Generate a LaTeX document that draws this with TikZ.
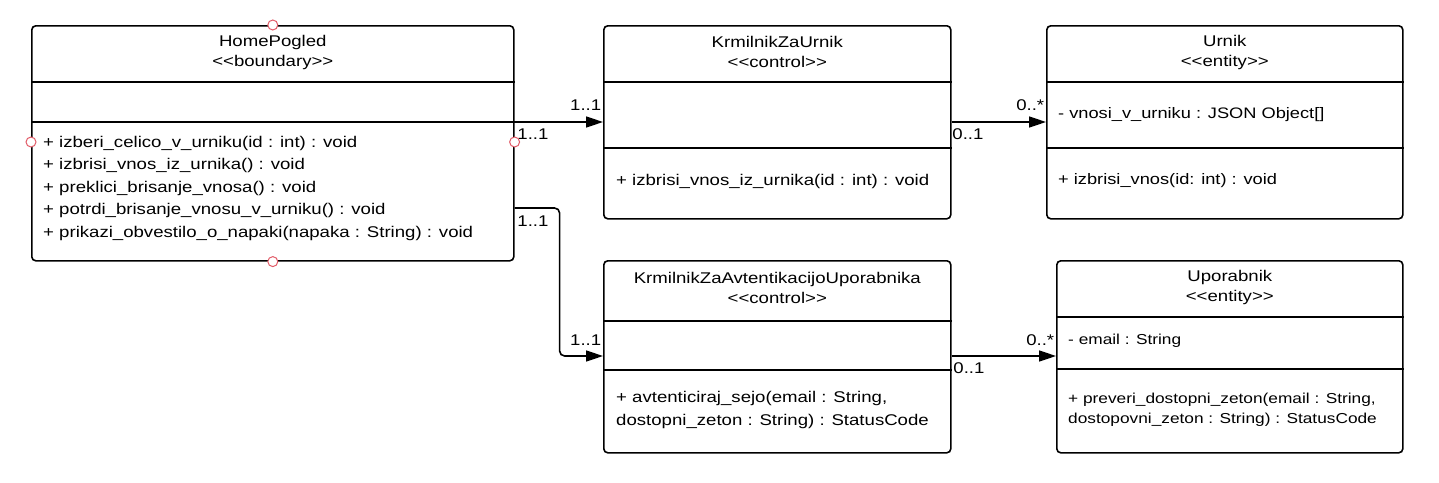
\documentclass[tikz,border=0pt]{standalone}
\usepackage{fontspec}
\setmainfont{Liberation Sans}[FakeStretch=1.2]
\usetikzlibrary{arrows.meta}

\definecolor{portred}{RGB}{226,92,104}

\tikzset{
  classbox/.style={draw, line width=1.6pt, rounded corners=4pt, inner sep=0pt, anchor=north west},
  divider/.style={line width=1.6pt},
  headtext/.style={align=center, inner sep=0pt, font=\fontsize{15.5}{20}\selectfont},
  membertext/.style={align=left, anchor=west, inner sep=0pt, font=\fontsize{15.5}{22.5}\selectfont},
  smallmember/.style={membertext, font=\fontsize{14.4}{20}\selectfont},
  assoc/.style={line width=1.6pt, -{Triangle[length=17pt,width=11pt]}},
  mult/.style={inner sep=0pt, font=\fontsize{15.5}{18}\selectfont},
  port/.style={draw=portred, line width=1pt, fill=white},
}

\begin{document}
\begin{tikzpicture}[x=1pt, y=-1pt]
    \useasboundingbox[fill=white] (0,0) rectangle (1439,482);

    % Class boxes
    \node[classbox, minimum width=482pt, minimum height=235pt] (home) at (31,25) {};
    \node[classbox, minimum width=347pt, minimum height=193pt] (kzu) at (603,25) {};
    \node[classbox, minimum width=356pt, minimum height=193pt] (urnik) at (1046,25) {};
    \node[classbox, minimum width=347pt, minimum height=192pt] (kza) at (603,260) {};
    \node[classbox, minimum width=346pt, minimum height=192pt] (upo) at (1056,260) {};

    % Compartment lines
    \foreach \cls/\a/\b in {home/57/97, kzu/57/123, urnik/57/123, kza/61/110, upo/57/109} {
        \draw[divider] ([yshift=-\a pt]\cls.north west) -- ([yshift=-\a pt]\cls.north east);
        \draw[divider] ([yshift=-\b pt]\cls.north west) -- ([yshift=-\b pt]\cls.north east);
    }

    % Headers
    \node[headtext] (homehead) at ([yshift=-27pt]home.north) {HomePogled\\<{}<boundary>{}>};
    \node[headtext] (kzuhead) at ([yshift=-27pt]kzu.north) {KrmilnikZaUrnik\\<{}<control>{}>};
    \node[headtext] (urnikhead) at ([yshift=-27pt]urnik.north) {Urnik\\<{}<entity>{}>};
    \node[headtext] (kzahead) at ([yshift=-28pt]kza.north) {KrmilnikZaAvtentikacijoUporabnika\\<{}<control>{}>};
    \node[headtext] (upohead) at ([yshift=-27pt]upo.north) {Uporabnik\\<{}<entity>{}>};

    % Attributes and operations
    \node[membertext] (homeops) at (43,188) {+ izberi\_celico\_v\_urniku(id : int) : void\\
        + izbrisi\_vnos\_iz\_urnika() : void\\
        + preklici\_brisanje\_vnosa() : void\\
        + potrdi\_brisanje\_vnosu\_v\_urniku() : void\\
        + prikazi\_obvestilo\_o\_napaki(napaka : String) : void};
    \node[membertext] (kzuops) at (616,181) {+ izbrisi\_vnos\_iz\_urnika(id : int) : void};
    \node[membertext, font=\fontsize{15.2}{20}\selectfont] (urnikattr) at (1058,115) {- vnosi\_v\_urniku : JSON Object[]};
    \node[membertext, font=\fontsize{15.2}{20}\selectfont] (urnikops) at (1058,181) {+ izbrisi\_vnos(id: int) : void};
    \node[membertext] (kzaops) at (616,410) {+ avtenticiraj\_sejo(email : String,\\dostopni\_zeton : String) : StatusCode};
    \node[smallmember] (upoattr) at (1068,341) {- email : String};
    \node[smallmember] (upoops) at (1068,410) {+ preveri\_dostopni\_zeton(email : String,\\dostopovni\_zeton : String) : StatusCode};

    % Associations
    \draw[assoc] ([yshift=-97pt]home.north east)
        node[mult, anchor=north west, xshift=2pt, yshift=-6pt] (m1a) {1..1}
        -- ([yshift=-97pt]kzu.north west)
        node[mult, anchor=south east, xshift=-1pt, yshift=11pt] (m1b) {1..1};
    \draw[assoc] ([yshift=-97pt]kzu.north east)
        node[mult, anchor=north west, yshift=-6pt] (m2a) {0..1}
        -- ([yshift=-97pt]urnik.north west)
        node[mult, anchor=south east, xshift=-1pt, yshift=11pt] (m2b) {0..*};
    \draw[assoc, rounded corners=5pt] ([yshift=-183pt]home.north east)
        node[mult, anchor=north west, xshift=2pt, yshift=-7pt] (m3a) {1..1}
        -- ++(45,0) |- ([yshift=-96pt]kza.north west)
        node[mult, anchor=south east, xshift=-1pt, yshift=10pt] (m3b) {1..1};
    \draw[assoc] ([yshift=-96pt]kza.north east)
        node[mult, anchor=north west, xshift=1pt, yshift=-6pt] (m4a) {0..1}
        -- ([yshift=-96pt]upo.north west)
        node[mult, anchor=south east, xshift=-1pt, yshift=10pt] (m4b) {0..*};

    % Connection points
    \draw[port] (home.north) circle (5pt);
    \draw[port] (home.south) circle (5pt);
    \draw[port] ([yshift=-117pt]home.north west) circle (5pt);
    \draw[port] ([yshift=-117pt]home.north east) circle (5pt);
\end{tikzpicture}
\end{document}
